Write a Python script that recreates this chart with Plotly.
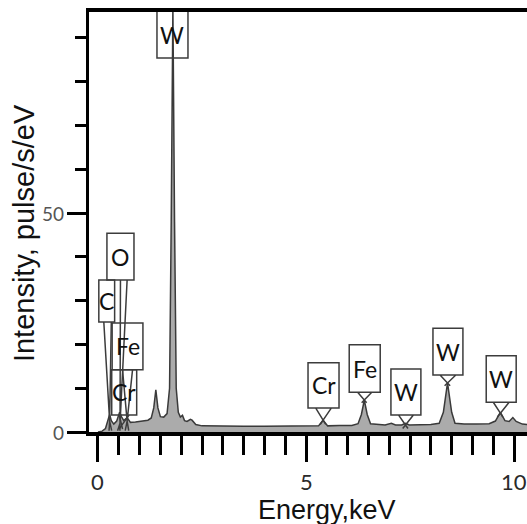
import plotly.graph_objects as go

# EDS spectrum: energy (keV) and intensity (pulse/s/eV)
energy = [0.00, 0.10, 0.18, 0.24, 0.28, 0.32, 0.38, 0.45, 0.52, 0.57, 0.62, 0.70, 0.78,
          0.90, 1.00, 1.10, 1.20, 1.28, 1.34, 1.39, 1.44, 1.50, 1.58, 1.66, 1.72, 1.76,
          1.80, 1.84, 1.88, 1.93, 1.98, 2.03, 2.08, 2.14, 2.22, 2.26, 2.35, 2.50, 3.00,
          3.50, 4.00, 4.50, 5.00, 5.30, 5.41, 5.52, 5.80, 6.10, 6.25, 6.33, 6.40, 6.47,
          6.55, 6.70, 6.90, 7.05, 7.15, 7.30, 7.39, 7.48, 7.70, 8.00, 8.20, 8.30, 8.40,
          8.50, 8.58, 8.80, 9.10, 9.40, 9.55, 9.67, 9.78, 9.88, 9.97, 10.05, 10.20, 10.35]
intensity = [0.0, 0.2, 0.8, 2.5, 4.0, 2.6, 1.8, 2.5, 4.5, 3.4, 2.6, 3.3, 2.2,
             2.3, 2.4, 2.5, 2.7, 3.2, 5.5, 9.6, 5.5, 3.5, 3.4, 4.2, 10.0, 48.0,
             97.0, 48.0, 10.0, 4.5, 3.4, 3.8, 2.6, 2.4, 2.9, 2.7, 1.7, 1.4, 1.3,
             1.3, 1.3, 1.3, 1.3, 1.4, 2.7, 1.4, 1.5, 1.5, 1.9, 4.0, 7.3, 4.0,
             1.9, 1.7, 1.6, 2.0, 1.6, 1.6, 2.0, 1.6, 1.6, 1.7, 2.0, 4.5, 11.2,
             4.5, 2.0, 1.8, 1.8, 1.9, 2.5, 4.5, 2.6, 2.4, 3.3, 2.4, 1.8, 1.7]

# Tick labels
x_tick_vals = [0, 5, 10]
x_tick_text = ["0", "5", "10"]
y_tick_vals = [0, 50]
y_tick_text = ["0", "50"]

# Identified lines: element, line energy (keV), intensity where the marker meets the peak
line_element = ["W", "C", "O", "Cr", "Fe", "Cr", "Fe", "W", "W", "W"]
line_energy = [1.80, 0.28, 0.53, 0.57, 0.70, 5.41, 6.40, 7.39, 8.40, 9.67]
line_level = [85.4, 2.5, 2.0, 1.5, 2.5, 2.7, 7.3, 1.6, 11.2, 4.3]

# Label box placement for each line: centre (keV), width (keV), bottom/top (intensity),
# tail centre and half-width (keV)
box_cx = [1.79, 0.21, 0.54, 0.63, 0.71, 5.42, 6.41, 7.40, 8.41, 9.69]
box_w = [0.745, 0.38, 0.65, 0.60, 0.74, 0.745, 0.745, 0.72, 0.72, 0.72]
box_bottom = [85.4, 25.1, 34.7, 3.9, 14.2, 5.5, 9.1, 3.9, 13.0, 6.8]
box_top = [96.5, 34.7, 45.4, 14.2, 24.9, 15.8, 19.9, 14.4, 23.7, 17.4]
tail_cx = [1.79, 0.23, 0.62, 0.63, 0.71, 5.42, 6.41, 7.40, 8.41, 9.69]
tail_hw = [0.0, 0.09, 0.08, 0.12, 0.12, 0.19, 0.17, 0.18, 0.19, 0.19]

x_range = [-0.216, 10.31]
y_range = [0, 95.9]

fig = go.Figure()
fig.add_trace(go.Scatter(
    x=energy, y=intensity, mode="lines",
    line=dict(color="#3a3a3a", width=1.5),
    fill="tozeroy", fillcolor="#ababab",
    hoverinfo="skip", showlegend=False,
))

shapes = []
annotations = []
ext = 0.35  # how far the tail lines run past the crossing point
for name, e, lv, cx, w, yb, yt, tcx, hw in zip(line_element, line_energy, line_level,
                                               box_cx, box_w, box_bottom, box_top,
                                               tail_cx, tail_hw):
    x0, x1 = cx - w / 2, cx + w / 2
    path = f"M{x0},{yb} L{x0},{yt} L{x1},{yt} L{x1},{yb} Z"
    if hw > 0:
        lx, rx = tcx - hw, tcx + hw
        # two tail lines that cross at the peak and run a little beyond
        lx_end = e + (e - lx) * ext
        rx_end = e + (e - rx) * ext
        y_end = max(lv - (yb - lv) * ext, 0.3)
        path += f" M{lx},{yb} L{e},{lv} L{lx_end},{y_end}"
        path += f" M{rx},{yb} L{e},{lv} L{rx_end},{y_end}"
    shapes.append(dict(type="path", path=path, xref="x", yref="y",
                       line=dict(color="#3c3c3c", width=1.5), layer="above"))
    annotations.append(dict(x=cx, y=(yb + min(yt, 95.9)) / 2, xref="x", yref="y",
                            text=name, showarrow=False,
                            font=dict(family="Lato, Open Sans, sans-serif", size=23,
                                      color="#111111")))

# tick labels placed just beyond the tick marks
for v, t in zip(x_tick_vals, x_tick_text):
    annotations.append(dict(x=v, y=0, xref="x", yref="paper", text=t, showarrow=False,
                            xanchor="center", yanchor="middle", yshift=-49,
                            font=dict(family="Lato, sans-serif", size=22, color="#2a2a2a")))
for v, t in zip(y_tick_vals, y_tick_text):
    annotations.append(dict(x=0, y=v, xref="paper", yref="y", text=t, showarrow=False,
                            xanchor="right", yanchor="middle", xshift=-23,
                            font=dict(family="Lato, sans-serif", size=19, color="#555555")))

annotations.append(dict(x=0.543, y=-0.1857, xref="paper", yref="paper",
                        text="Energy,keV", showarrow=False, yanchor="middle",
                        font=dict(family="Liberation Sans, Arial, sans-serif", size=27,
                                  color="#111111")))
annotations.append(dict(x=-0.148, y=0.474, xref="paper", yref="paper",
                        text="Intensity, pulse/s/eV", showarrow=False, textangle=-90,
                        xanchor="center", yanchor="middle",
                        font=dict(family="Liberation Sans, Arial, sans-serif", size=29,
                                  color="#111111")))

fig.update_layout(
    width=527, height=524,
    margin=dict(l=89, r=0, t=12, b=92),
    paper_bgcolor="white", plot_bgcolor="white",
    shapes=shapes, annotations=annotations,
    xaxis=dict(
        range=x_range, showgrid=False, zeroline=False,
        showline=True, linecolor="black", linewidth=4, mirror=True,
        ticks="outside", ticklen=26, tickwidth=3, tickcolor="black",
        tickvals=x_tick_vals, showticklabels=False,
        minor=dict(ticks="outside", ticklen=19, tickwidth=3, tickcolor="black",
                   tick0=0, dtick=0.5),
    ),
    yaxis=dict(
        range=y_range, showgrid=False, zeroline=False,
        showline=True, linecolor="black", linewidth=3,
        ticks="outside", ticklen=19, tickwidth=3, tickcolor="black",
        tickvals=y_tick_vals, showticklabels=False,
        minor=dict(ticks="outside", ticklen=11, tickwidth=3, tickcolor="black",
                   tick0=0, dtick=10),
    ),
)

fig.write_html("out.html")
